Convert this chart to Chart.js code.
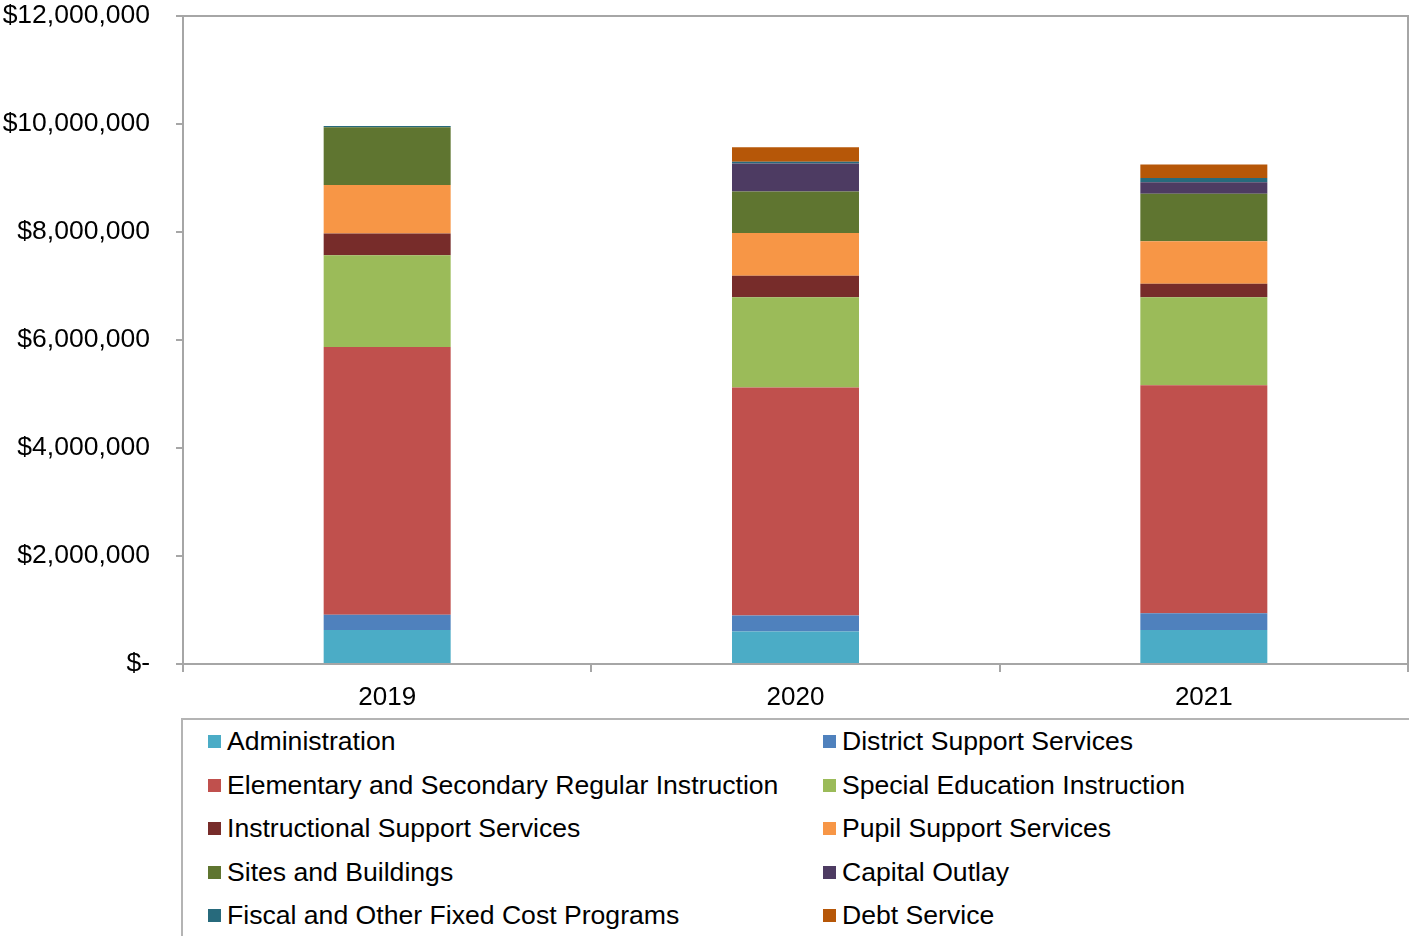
<!DOCTYPE html>
<html>
<head>
<meta charset="utf-8">
<script src="https://cdn.jsdelivr.net/npm/chart.js@4/dist/chart.umd.min.js"></script>
<style>
  body { margin: 0; background: #fff; font-family: "Liberation Sans", Arial, sans-serif; overflow: hidden; }
  #wrap { position: absolute; left: 0; top: 0; width: 1409px; height: 718px; }
  #legend {
    position: absolute; left: 181px; top: 718px; width: 1260px; height: 260px;
    border: 2px solid #b4b4b4; box-sizing: border-box;
  }
  .item { position: absolute; font-size: 26.6px; color: #000; white-space: nowrap; line-height: 30px; }
  .sw { display: inline-block; width: 13px; height: 13px; margin-right: 6px; vertical-align: 2px; }
</style>
</head>
<body>
<div id="wrap"><canvas id="myChart"></canvas></div>
<div id="legend"></div>
<script>
const years = ['2019', '2020', '2021'];
const categories = [
  'Administration', 'District Support Services',
  'Elementary and Secondary Regular Instruction', 'Special Education Instruction',
  'Instructional Support Services', 'Pupil Support Services',
  'Sites and Buildings', 'Capital Outlay',
  'Fiscal and Other Fixed Cost Programs', 'Debt Service'
];
const administration = [630000, 600000, 630000];
const districtSupport = [280000, 300000, 310000];
const elementary = [4960000, 4220000, 4220000];
const specialEd = [1700000, 1670000, 1630000];
const instructionalSupport = [400000, 400000, 250000];
const pupilSupport = [900000, 790000, 790000];
const sitesBuildings = [1070000, 770000, 880000];
const capitalOutlay = [0, 520000, 210000];
const fiscalFixed = [25000, 30000, 80000];
const debtService = [0, 270000, 250000];
const colors = ['#4BACC6', '#4F81BD', '#C0504D', '#9BBB59', '#772C2A',
                '#F79646', '#5F7530', '#4D3B62', '#276A7C', '#B65708'];
const yTicks = [0, 2000000, 4000000, 6000000, 8000000, 10000000, 12000000];

const seriesData = [administration, districtSupport, elementary, specialEd, instructionalSupport,
                    pupilSupport, sitesBuildings, capitalOutlay, fiscalFixed, debtService];

const datasets = categories.map((name, i) => ({
  label: name,
  data: seriesData[i],
  backgroundColor: colors[i],
  borderWidth: 0,
  categoryPercentage: 1,
  barPercentage: 0.311
}));

// grey frame round the plot area (top and right sides)
const frame = {
  id: 'frame',
  afterDraw(chart) {
    const a = chart.chartArea, c = chart.ctx;
    c.save();
    c.strokeStyle = '#a6a6a6';
    c.lineWidth = 2;
    c.beginPath();
    c.moveTo(a.left, a.top);
    c.lineTo(a.right, a.top);
    c.lineTo(a.right, a.bottom + 8);
    c.stroke();
    c.restore();
  }
};

Chart.defaults.font.family = '"Liberation Sans", Arial, sans-serif';
Chart.defaults.color = '#000';

new Chart(document.getElementById('myChart').getContext('2d'), {
  type: 'bar',
  data: { labels: years, datasets: datasets },
  plugins: [frame],
  options: {
    responsive: true,
    maintainAspectRatio: false,
    animation: false,
    layout: { padding: { top: 16, right: 1, left: 0, bottom: 0 } },
    plugins: { legend: { display: false }, tooltip: { enabled: false } },
    scales: {
      x: {
        stacked: true,
        offset: true,
        grid: { offset: true, drawOnChartArea: false, drawTicks: true, tickLength: 8, color: '#a6a6a6', lineWidth: 2 },
        border: { color: '#a6a6a6', width: 2 },
        ticks: { font: { size: 26 }, padding: 10 },
        afterFit: s => { s.height = 718 - 664; s.paddingLeft = 0; s.paddingRight = 0; }
      },
      y: {
        stacked: true,
        min: 0,
        max: 12000000,
        afterBuildTicks: s => { s.ticks = yTicks.map(v => ({ value: v })); },
        grid: { drawOnChartArea: false, drawTicks: true, tickLength: 7, color: '#a6a6a6', lineWidth: 2 },
        border: { color: '#a6a6a6', width: 2 },
        ticks: {
          font: { size: 26.5 },
          padding: 26,
          callback: v => v === 0 ? '$-' : '$' + v.toLocaleString('en-US')
        },
        afterFit: s => { s.width = 183; s.paddingTop = 0; s.paddingBottom = 0; }
      }
    }
  }
});

// legend in two columns, like the original
const legend = document.getElementById('legend');
const rowY = [741, 785, 828, 872, 915];
categories.forEach((name, i) => {
  const d = document.createElement('div');
  d.className = 'item';
  d.style.left = (i % 2 === 0 ? 208 - 183 : 823 - 183) + 'px';
  d.style.top = (rowY[Math.floor(i / 2)] - 720 - 15) + 'px';
  d.innerHTML = '<span class="sw" style="background:' + colors[i] + '"></span>' + name;
  legend.appendChild(d);
});
</script>
</body>
</html>
